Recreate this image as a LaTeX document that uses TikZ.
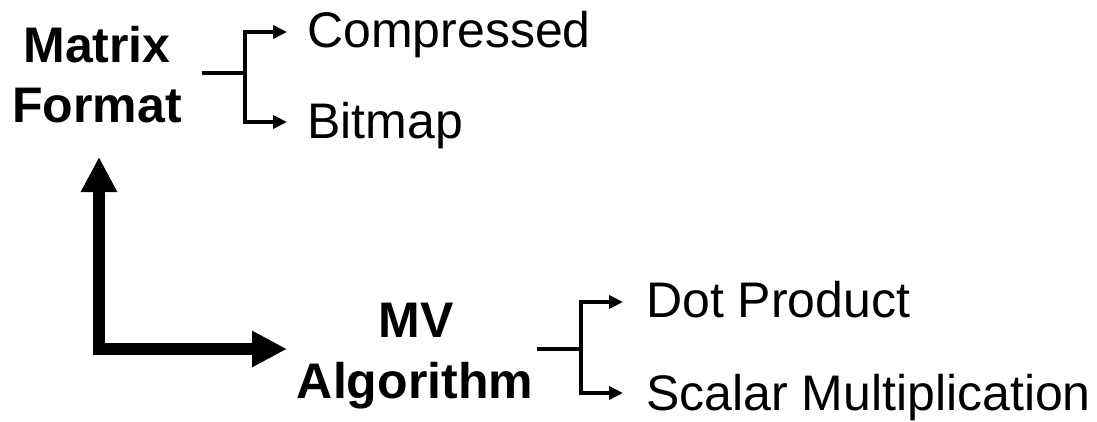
\documentclass[tikz,border=0pt]{standalone}
\usepackage{fontspec}
\setmainfont{Liberation Sans}
\usetikzlibrary{arrows.meta,calc}

\begin{document}
\begin{tikzpicture}[x=1pt,y=-1pt,
  lbl/.style={inner sep=0pt, anchor=base west, font=\fontsize{50}{60}\selectfont},
  head/.style={inner sep=0pt, anchor=base, font=\fontsize{50}{60}\selectfont\bfseries},
  branch/.style={line width=3.5pt, -{Triangle[length=14pt,width=13pt]}},
  stem/.style={line width=3.5pt},
  bigarrow/.style={line width=12pt, line join=miter,
    {Triangle[length=35pt,width=34pt]}-{Triangle[length=35pt,width=34pt]}}]
  \useasboundingbox (0,0) rectangle (1097,421);

  % category headings
  \node[head] (mat) at (97,62)  {Matrix};
  \node[head] (fmt) at (97,122) {Format};
  \node[head] (mv)  at (416,337) {MV};
  \node[head] (alg) at (415,398) {Algorithm};

  % options
  \node[lbl] (comp) at (307,47)  {Compressed};
  \node[lbl] (bit)  at (307,138) {Bitmap};
  \node[lbl] (dot)  at (646,317) {Dot Product};
  \node[lbl] (scal) at (646,410) {Scalar Multiplication};

  % branch points
  \coordinate (mfout) at (202,73);
  \coordinate (mfj)   at (245,73);
  \coordinate (mvout) at (537,349);
  \coordinate (mvj)   at (581,349);

  \draw[stem] (mfout) -- (mfj);
  \draw[branch] (mfj) |- ($(comp.base west)+(-20,-15)$);
  \draw[branch] (mfj) |- ($(bit.base west)+(-20,-16)$);

  \draw[stem] (mvout) -- (mvj);
  \draw[branch] (mvj) |- ($(dot.base west)+(-23,-15)$);
  \draw[branch] (mvj) |- ($(scal.base west)+(-23,-17)$);

  % heavy L-shaped double arrow linking the two headings
  \coordinate (uptip)  at (99,157);
  \coordinate (corner) at (99,349);
  \coordinate (rtip)   at (287,349);
  \draw[bigarrow] (uptip) -- (corner) -- (rtip);
\end{tikzpicture}
\end{document}
